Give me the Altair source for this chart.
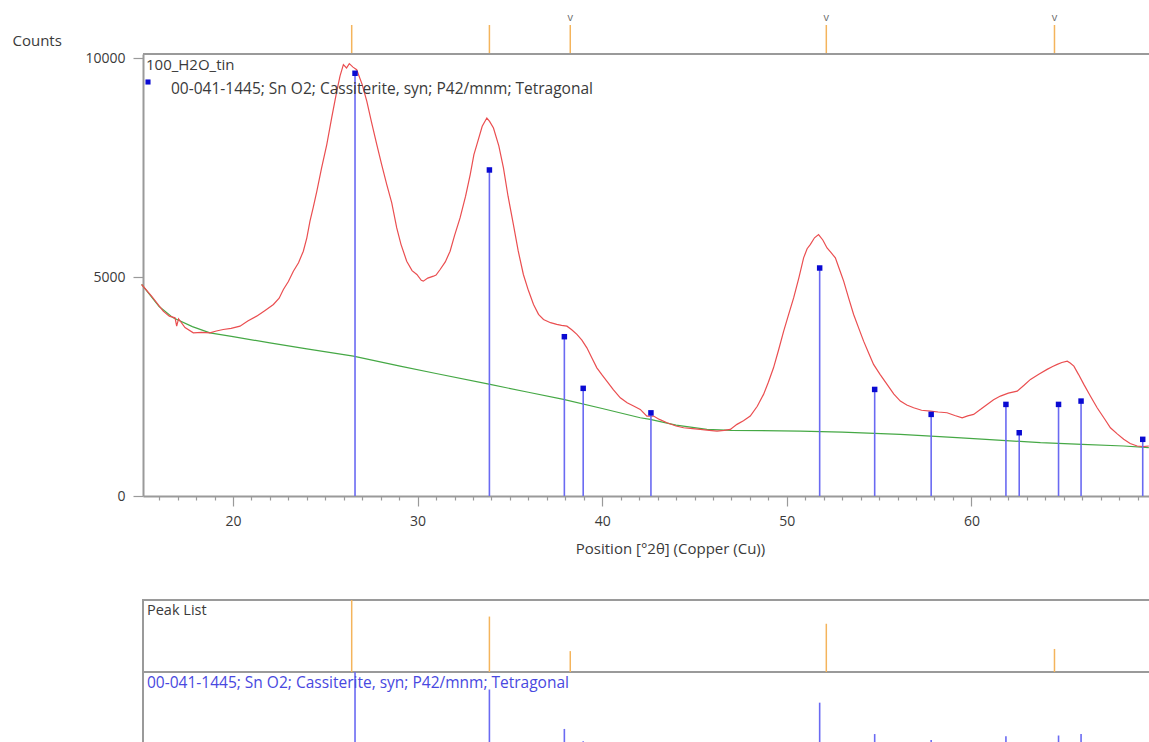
import altair as alt
import pandas as pd

# ---------------- data ----------------
scan_pos = [15.05, 15.6, 16.22, 16.55, 16.86, 16.95, 17.05, 17.4, 17.85, 18.3, 18.75, 19.1, 19.47, 19.9,
            20.38, 20.8, 21.28, 21.7, 22.19, 22.5, 22.73, 23.0, 23.27, 23.55, 23.81, 24.0, 24.17, 24.35,
            24.54, 24.8, 25.08, 25.35, 25.62, 25.8, 25.98, 26.15, 26.3, 26.5, 26.7, 27.0, 27.25, 27.5,
            27.79, 28.05, 28.33, 28.6, 28.87, 29.1, 29.41, 29.7, 29.96, 30.2, 30.31, 30.55, 30.86, 31.0,
            31.22, 31.5, 31.76, 32.0, 32.3, 32.6, 32.85, 33.05, 33.21, 33.5, 33.75, 33.9, 34.11, 34.4,
            34.65, 34.9, 35.19, 35.45, 35.73, 36.0, 36.28, 36.55, 36.82, 37.2, 37.54, 37.8, 38.09, 38.35,
            38.63, 38.9, 39.17, 39.45, 39.71, 40.0, 40.25, 40.6, 40.98, 41.35, 41.7, 42.06, 42.42, 42.78,
            43.1, 43.51, 44.0, 44.41, 44.9, 45.31, 45.8, 46.22, 46.6, 46.94, 47.3, 47.65, 48.02, 48.4,
            48.74, 49.0, 49.28, 49.55, 49.83, 50.1, 50.37, 50.65, 50.91, 51.1, 51.27, 51.5, 51.72, 51.95,
            52.18, 52.4, 52.63, 52.85, 53.08, 53.35, 53.62, 53.9, 54.16, 54.45, 54.7, 55.05, 55.43, 55.8,
            56.15, 56.5, 56.87, 57.3, 57.78, 58.2, 58.68, 59.1, 59.5, 59.8, 60.12, 60.5, 60.85, 61.2,
            61.57, 62.0, 62.48, 62.85, 63.2, 63.65, 64.1, 64.4, 64.65, 64.9, 65.19, 65.35, 65.55, 65.8,
            66.09, 66.45, 66.81, 67.2, 67.53, 67.9, 68.25, 68.6, 68.98, 69.3, 69.61]
scan_counts = [4833, 4560, 4224, 4110, 4071, 3881, 4050, 3850, 3728, 3740, 3728, 3770, 3805, 3830,
               3881, 4000, 4110, 4230, 4376, 4520, 4719, 4900, 5137, 5330, 5594, 5900, 6279, 6600,
               6963, 7500, 8030, 8650, 9247, 9600, 9856, 9780, 9880, 9800, 9741, 9400, 9018, 8550,
               8030, 7580, 7116, 6700, 6126, 5750, 5365, 5150, 5062, 4930, 4909, 4980, 5023, 5050,
               5176, 5350, 5594, 5950, 6354, 6850, 7345, 7800, 8030, 8450, 8637, 8560, 8409, 8000,
               7496, 6850, 6203, 5600, 5062, 4700, 4376, 4150, 4034, 3960, 3920, 3900, 3881, 3800,
               3692, 3560, 3386, 3150, 2929, 2760, 2626, 2430, 2244, 2130, 2055, 1979, 1826, 1826,
               1750, 1674, 1600, 1559, 1540, 1522, 1500, 1484, 1500, 1522, 1637, 1720, 1826, 2050,
               2322, 2600, 2929, 3330, 3767, 4150, 4527, 4980, 5441, 5650, 5746, 5900, 5975, 5850,
               5669, 5560, 5441, 5180, 4909, 4520, 4148, 3830, 3539, 3250, 3007, 2780, 2550, 2330,
               2169, 2080, 2016, 1960, 1941, 1920, 1902, 1840, 1788, 1830, 1865, 1980, 2093, 2200,
               2283, 2350, 2397, 2530, 2664, 2780, 2893, 2960, 3007, 3050, 3082, 3040, 2968, 2780,
               2550, 2280, 2016, 1770, 1559, 1420, 1295, 1200, 1142, 1130, 1142]

bg_pos = [15.05, 16.0, 16.76, 17.8, 18.75, 20.0, 22.0, 24.0, 26.52, 29.05, 31.0, 33.93, 36.0, 37.9,
          40.0, 42.06, 42.6, 44.0, 45.67, 47.0, 50.73, 53.0, 56.15, 59.22, 61.0, 63.74, 66.0, 68.25, 69.61]
bg_counts = [4833, 4330, 4071, 3870, 3728, 3640, 3500, 3360, 3196, 2968, 2800, 2550, 2370, 2207,
             2000, 1788, 1751, 1620, 1522, 1500, 1484, 1460, 1408, 1332, 1290, 1218, 1180, 1142, 1104]

ref_pos = [26.61, 33.89, 37.95, 38.97, 42.64, 51.78, 54.76, 57.82, 61.87, 62.59, 64.72, 65.94, 69.28]
ref_top = [9660, 7450, 3640, 2460, 1900, 5210, 2435, 1865, 2093, 1446, 2093, 2169, 1295]
ref_rel = [100, 76, 22, 5, 2, 58, 15, 7, 12, 2, 13, 15, 3]

peak_pos = [26.43, 33.89, 38.27, 52.14, 64.5]
peak_rel = [100, 77, 29, 67, 32]
peak_mark = ["", "", "v", "v", "v"]

x_tick_values = list(range(16, 70))
y_tick_values = [0, 5000, 10000]

sample_name = ["100_H2O_tin"]
phase_label = ["00-041-1445; Sn O2; Cassiterite, syn; P42/mnm; Tetragonal"]
panel_title = ["Peak List"]
y_title = "Counts"
x_title = "Position [°2θ] (Copper (Cu))"

# ---------------- layout / style ----------------
W, H = 1006, 442
XDOM = [15.125, 69.62]
YDOM = [0, 10100]
FONT = "Open Sans"
GRAY = "#9a9a9a"
TXT = "#3a3a3a"
RED = "#ea4e50"
GREEN = "#45a845"
STICK = "#6a6af2"
MARK = "#0a0ad2"
ORANGE = "#f4b45c"

scan = pd.DataFrame({"pos": scan_pos, "counts": scan_counts})
bg = pd.DataFrame({"pos": bg_pos, "counts": bg_counts})
ref = pd.DataFrame({"pos": ref_pos, "top": ref_top, "rel": ref_rel})
peaks = pd.DataFrame({"pos": peak_pos, "rel": peak_rel, "mark": peak_mark})

x_axis = alt.Axis(
    values=x_tick_values,
    labelExpr="datum.value % 10 === 0 ? datum.label : ''",
    tickSize={"condition": {"test": "datum.value % 10 === 0", "value": 10}, "value": 4},
    tickColor=GRAY, tickWidth=1.2, domainColor=GRAY, domainWidth=2,
    labelFont=FONT, labelFontSize=14, labelColor=TXT, labelPadding=8,
    labelOverlap=False, labelFlush=False, grid=False,
    title=x_title, titleFont=FONT, titleFontSize=15, titleFontWeight="normal", titleColor=TXT,
    titleX=527, titleY=52, titleAlign="center", titleBaseline="middle",
)
y_axis = alt.Axis(
    values=y_tick_values, format="d", grid=False,
    tickSize=10, tickColor=GRAY, tickWidth=1.2, domainColor=GRAY, domainWidth=2,
    labelFont=FONT, labelFontSize=14, labelColor=TXT, labelPadding=8,
    title=y_title, titleFont=FONT, titleFontSize=15, titleFontWeight="normal", titleColor=TXT,
    titleAngle=0, titleAlign="left", titleBaseline="middle", titleX=-131, titleY=-14,
)


def X(field="pos"):
    return alt.X(f"{field}:Q", scale=alt.Scale(domain=XDOM, nice=False, zero=False), axis=x_axis)


def Ymain(field, axis=None):
    if axis is None:
        return alt.Y(f"{field}:Q", scale=alt.Scale(domain=YDOM, nice=False), axis=None)
    return alt.Y(f"{field}:Q", scale=alt.Scale(domain=YDOM, nice=False), axis=axis)


red = alt.Chart(scan).mark_line(color=RED, strokeWidth=1.2).encode(x=X(), y=Ymain("counts", y_axis))
green = alt.Chart(bg).mark_line(color=GREEN, strokeWidth=1.2).encode(x=X(), y=Ymain("counts"))
sticks = alt.Chart(ref).mark_rule(color=STICK, strokeWidth=1.6).encode(
    x=X(), y=Ymain("top"), y2=alt.datum(0))
marks = alt.Chart(ref).mark_square(color=MARK, size=30, opacity=1).encode(x=X(), y=Ymain("top"))

# top border of the plot frame
top_border = alt.Chart(scan).mark_rule(color=GRAY, strokeWidth=2).encode(
    x=alt.value(0), x2=alt.value(W), y=alt.value(0))

# orange peak markers above the plot
top_ticks = alt.Chart(peaks).mark_rule(color=ORANGE, strokeWidth=1.5).encode(
    x=X(), y=alt.value(-29), y2=alt.value(-1))
top_v = alt.Chart(peaks).mark_text(color="#6a6a6a", font=FONT, fontSize=11, baseline="middle").encode(
    x=X(), y=alt.value(-36), text="mark:N")

# legend texts inside the plot
t_sample = alt.Chart(pd.DataFrame({"t": sample_name})).mark_text(
    align="left", baseline="middle", font=FONT, fontSize=15, color=TXT).encode(
    x=alt.value(3), y=alt.value(11), text="t:N")
t_phase = alt.Chart(pd.DataFrame({"t": phase_label})).mark_text(
    align="left", baseline="middle", font=FONT, fontSize=15.5, color=TXT).encode(
    x=alt.value(28), y=alt.value(35), text="t:N")
leg_sq = alt.Chart(pd.DataFrame({"t": phase_label})).mark_square(color=MARK, size=26, opacity=1).encode(
    x=alt.value(5), y=alt.value(28))

# ---------------- lower "Peak List" panel ----------------
panel_frame = alt.Chart(pd.DataFrame({"t": panel_title})).mark_rect(
    fill="white", fillOpacity=0, stroke=GRAY, strokeWidth=2).encode(
    x=alt.value(0), x2=alt.value(W + 10), y=alt.value(546), y2=alt.value(720))
panel_div = alt.Chart(pd.DataFrame({"t": panel_title})).mark_rule(color=GRAY, strokeWidth=2).encode(
    x=alt.value(0), x2=alt.value(W), y=alt.value(618))
pk_sticks = alt.Chart(peaks).mark_rule(color=ORANGE, strokeWidth=1.5).encode(
    x=X(), y=alt.Y("rel:Q", scale=alt.Scale(domain=[0, 100], range=[618, 546]), axis=None),
    y2=alt.datum(0))
ref_sticks = alt.Chart(ref).mark_rule(color=STICK, strokeWidth=1.6).encode(
    x=X(), y=alt.Y("rel:Q", scale=alt.Scale(domain=[0, 100], range=[691, 618]), axis=None),
    y2=alt.datum(0))
t_panel = alt.Chart(pd.DataFrame({"t": panel_title})).mark_text(
    align="left", baseline="middle", font=FONT, fontSize=14.5, color=TXT).encode(
    x=alt.value(4), y=alt.value(557), text="t:N")
t_panel_phase = alt.Chart(pd.DataFrame({"t": phase_label})).mark_text(
    align="left", baseline="middle", font=FONT, fontSize=15.5, color="#4848e0").encode(
    x=alt.value(4), y=alt.value(629), text="t:N")

chart = alt.layer(
    green, red, sticks, marks, top_border, top_ticks, top_v, t_sample, t_phase, leg_sq,
    panel_frame, panel_div, pk_sticks, ref_sticks, t_panel, t_panel_phase,
).resolve_scale(y="independent").properties(
    width=W, height=H,
    padding={"left": 143, "top": 54, "right": 0, "bottom": 246},
    autosize=alt.AutoSizeParams(type="none"),
    background="white",
).configure_view(strokeWidth=0)

chart.save("out.html", embed_options={"renderer": "svg", "actions": False})
